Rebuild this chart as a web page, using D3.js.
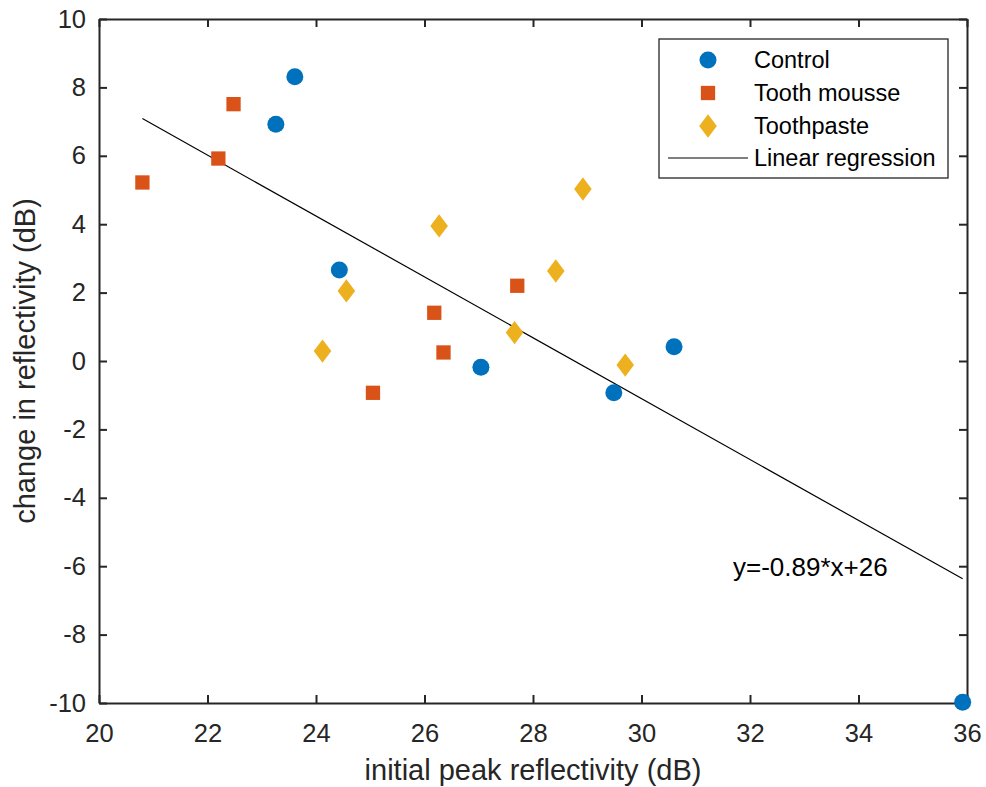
<!DOCTYPE html>
<html>
<head>
<meta charset="utf-8">
<script src="https://cdn.jsdelivr.net/npm/d3@7"></script>
<style>
  body { margin: 0; background: #fff; }
  svg { display: block; font-family: "Liberation Sans", Arial, Helvetica, sans-serif; }
</style>
</head>
<body>
<div id="chart"></div>
<script>
// data
const controlX = [23.61, 23.26, 24.43, 27.04, 29.49, 30.60, 35.92];
const controlY = [8.31, 6.92, 2.66, -0.18, -0.93, 0.42, -9.98];

const mousseX = [20.80, 22.20, 22.48, 26.18, 26.35, 25.05, 27.71];
const mousseY = [5.22, 5.92, 7.51, 1.41, 0.25, -0.93, 2.20];

const pasteX = [24.12, 24.56, 26.27, 27.66, 28.42, 28.92, 29.70];
const pasteY = [0.29, 2.05, 3.95, 0.83, 2.63, 5.03, -0.12];

const fitSlope = -0.89;
const fitIntercept = 25.6;
const fitRange = [20.80, 35.92];
const fitLabel = "y=-0.89*x+26";

const xTicks = [20, 22, 24, 26, 28, 30, 32, 34, 36];
const yTicks = [-10, -8, -6, -4, -2, 0, 2, 4, 6, 8, 10];

const seriesNames = ["Control", "Tooth mousse", "Toothpaste", "Linear regression"];

const W = 986, H = 787;
const axisColor = "#262626";
const colors = { circle: "#0072BD", square: "#D95319", diamond: "#EDB120" };

const svg = d3.select("#chart").append("svg")
    .attr("width", W)
    .attr("height", H);

// SCALES
const x = d3.scaleLinear().domain([20, 36]).range([99, 967]);
const y = d3.scaleLinear().domain([-10, 10]).range([703, 19]);

// plain hyphen for negatives, like the original
const plainFmt = d => String(d);

// AXES (MATLAB style, ticks pointing in, box on)
function styleAxis(g) {
    g.select(".domain").attr("stroke", axisColor).attr("stroke-width", 2);
    g.selectAll(".tick line").attr("stroke", axisColor).attr("stroke-width", 2);
    g.selectAll(".tick text").attr("fill", axisColor).style("font-size", "25.5px");
}

svg.append("g")
    .attr("transform", `translate(0,${y(-10)})`)
    .call(d3.axisBottom(x).tickValues(xTicks).tickFormat(plainFmt).tickSizeInner(-8).tickSizeOuter(0).tickPadding(21))
    .call(styleAxis);

svg.append("g")
    .attr("transform", `translate(0,${y(10)})`)
    .call(d3.axisTop(x).tickValues(xTicks).tickSizeInner(-8).tickSizeOuter(0).tickFormat(""))
    .call(styleAxis);

svg.append("g")
    .attr("transform", `translate(${x(20)},0)`)
    .call(d3.axisLeft(y).tickValues(yTicks).tickFormat(plainFmt).tickSizeInner(-8).tickSizeOuter(0).tickPadding(13))
    .call(styleAxis);

svg.append("g")
    .attr("transform", `translate(${x(36)},0)`)
    .call(d3.axisRight(y).tickValues(yTicks).tickSizeInner(-8).tickSizeOuter(0).tickFormat(""))
    .call(styleAxis);

// AXIS LABELS
svg.append("text")
    .attr("x", (x(20) + x(36)) / 2)
    .attr("y", 780)
    .attr("text-anchor", "middle")
    .attr("fill", axisColor)
    .style("font-size", "29px")
    .text("initial peak reflectivity (dB)");

svg.append("text")
    .attr("transform", `translate(35,${(y(-10) + y(10)) / 2}) rotate(-90)`)
    .attr("text-anchor", "middle")
    .attr("fill", axisColor)
    .style("font-size", "29px")
    .text("change in reflectivity (dB)");

// REGRESSION LINE
const fitLine = d3.line()
    .x(d => x(d))
    .y(d => y(fitSlope * d + fitIntercept));

svg.append("path")
    .datum(fitRange)
    .attr("fill", "none")
    .attr("stroke", "#000")
    .attr("stroke-width", 1.2)
    .attr("d", fitLine);

svg.append("text")
    .attr("x", 733)
    .attr("y", 576)
    .attr("fill", "#000")
    .style("font-size", "26px")
    .text(fitLabel);

// MARKERS
const symCircle = d3.symbol().type(d3.symbolCircle).size(Math.PI * 8.5 * 8.5);
const symSquare = d3.symbol().type(d3.symbolSquare).size(14.3 * 14.3);
const diamondPath = "M0,-11.7L8.8,0L0,11.7L-8.8,0Z";

function drawSeries(xs, ys, kind) {
    const pts = xs.map((v, i) => [v, ys[i]]);
    const g = svg.append("g");
    g.selectAll("path")
        .data(pts)
        .enter()
        .append("path")
        .attr("transform", d => `translate(${x(d[0])},${y(d[1])})`)
        .attr("d", kind === "circle" ? symCircle() : kind === "square" ? symSquare() : diamondPath)
        .attr("fill", colors[kind]);
}

drawSeries(controlX, controlY, "circle");
drawSeries(mousseX, mousseY, "square");
drawSeries(pasteX, pasteY, "diamond");

// LEGEND
const legend = svg.append("g").attr("transform", "translate(659,39)");

legend.append("rect")
    .attr("width", 289)
    .attr("height", 139)
    .attr("fill", "#fff")
    .attr("stroke", axisColor)
    .attr("stroke-width", 1.3);

const legendKinds = ["circle", "square", "diamond", "line"];
const rowY = [21, 54, 87, 119];

seriesNames.forEach((name, i) => {
    const row = legend.append("g").attr("transform", `translate(0,${rowY[i]})`);
    const kind = legendKinds[i];
    if (kind === "line") {
        row.append("line")
            .attr("x1", 9).attr("x2", 89)
            .attr("stroke", "#000").attr("stroke-width", 1.2);
    } else {
        row.append("path")
            .attr("transform", "translate(49,0)")
            .attr("d", kind === "circle" ? symCircle() : kind === "square" ? symSquare() : diamondPath)
            .attr("fill", colors[kind]);
    }
    row.append("text")
        .attr("x", 95)
        .attr("dy", "0.36em")
        .attr("fill", "#000")
        .style("font-size", "23.5px")
        .text(name);
});
</script>
</body>
</html>
